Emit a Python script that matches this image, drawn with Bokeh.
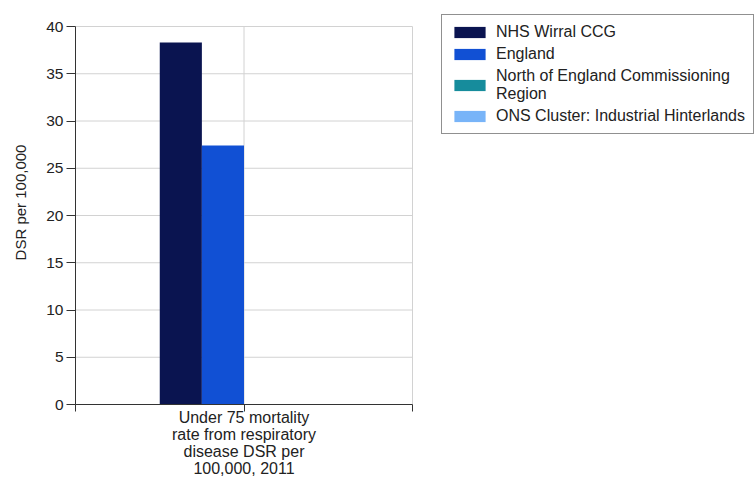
from bokeh.plotting import figure
from bokeh.models import Range1d, FixedTicker, Legend, LegendItem
from bokeh.embed import file_html
from bokeh.resources import INLINE

# ---- data ----
categories = ["Under 75 mortality\nrate from respiratory\ndisease DSR per\n100,000, 2011"]
series_names = [
    "NHS Wirral CCG",
    "England",
    "North of England Commissioning\nRegion",
    "ONS Cluster: Industrial Hinterlands",
]
nhs_wirral = [38.3]
england = [27.4]
north_region = [0.0]
ons_cluster = [0.0]
series_values = [nhs_wirral, england, north_region, ons_cluster]
series_colors = ["#0a1450", "#1150d4", "#168c9c", "#78b4f8"]
y_ticks = [0, 5, 10, 15, 20, 25, 30, 35, 40]
Y_MAX = 40

FONT = "Liberation Sans"

# layout (pixels): plot area 75..412 wide, 26..404 high; frame extended to the
# right/top edge so the legend (drawn inside the frame) is not clipped.
W, H = 754, 479
LEFT, BOTTOM = 75, 75
PLOT_RIGHT, PLOT_TOP = 412, 26
n_cat = len(categories)
x_max = 2 * n_cat
frame_w = W - LEFT
frame_h = H - BOTTOM
x_end = x_max * frame_w / (PLOT_RIGHT - LEFT)
y_end = Y_MAX * frame_h / (frame_h - PLOT_TOP)

p = figure(
    width=W, height=H,
    x_range=Range1d(0, x_end),
    y_range=Range1d(0, y_end),
    output_backend="svg", toolbar_location=None,
    min_border_left=LEFT, min_border_right=0, min_border_top=0, min_border_bottom=BOTTOM,
)
p.outline_line_color = None
p.background_fill_color = "white"
p.border_fill_color = "white"
p.xgrid.visible = False
p.ygrid.visible = False

xt = sorted(set([0] + [2 * i + 1 for i in range(n_cat)] + [2 * i + 2 for i in range(n_cat)]))
grid_color = "#d2d2d2"
# grid lines limited to the plot area
hy = [t for t in y_ticks if t > 0]
p.segment(x0=[0] * len(hy), x1=[x_max] * len(hy), y0=hy, y1=hy, line_color=grid_color, line_width=1)
vx = [t for t in xt if t > 0]
p.segment(x0=vx, x1=vx, y0=[0] * len(vx), y1=[Y_MAX] * len(vx), line_color=grid_color, line_width=1)

n = len(series_names)
bar_w = 0.25
renderers = []
for j, (name, vals, col) in enumerate(zip(series_names, series_values, series_colors)):
    xs = [2 * i + 1 + (j - (n - 1) / 2) * bar_w for i in range(n_cat)]
    r = p.vbar(x=xs, top=vals, bottom=0, width=bar_w, fill_color=col, line_color=None)
    renderers.append(r)

# axes
p.yaxis.bounds = (0, Y_MAX)
p.yaxis.ticker = FixedTicker(ticks=y_ticks)
p.yaxis.axis_label = "DSR per 100,000"
p.yaxis.axis_label_text_font = FONT
p.yaxis.axis_label_text_font_size = "15px"
p.yaxis.axis_label_text_font_style = "normal"
p.yaxis.axis_label_text_color = "#222222"
p.yaxis.axis_label_standoff = 14
p.yaxis.major_label_text_font = FONT
p.yaxis.major_label_text_font_size = "15.5px"
p.yaxis.major_label_text_color = "#222222"
p.yaxis.major_label_standoff = 3
p.yaxis.major_tick_out = 9
p.yaxis.major_tick_in = 0
p.yaxis.minor_tick_out = 0
p.yaxis.minor_tick_in = 0
p.yaxis.axis_line_color = "#333333"
p.yaxis.major_tick_line_color = "#333333"

p.xaxis.bounds = (0, x_max)
p.xaxis.ticker = FixedTicker(ticks=xt)
overrides = {0: ""}
for i, c in enumerate(categories):
    overrides[2 * i + 1] = c
    overrides[2 * i + 2] = ""
p.xaxis.major_label_overrides = overrides
p.xaxis.major_label_text_font = FONT
p.xaxis.major_label_text_font_size = "16px"
p.xaxis.major_label_text_color = "#222222"
p.xaxis.major_label_text_line_height = 1.0
p.xaxis.major_label_standoff = -3
p.xaxis.major_tick_out = 7
p.xaxis.major_tick_in = 0
p.xaxis.minor_tick_out = 0
p.xaxis.minor_tick_in = 0
p.xaxis.axis_line_color = "#333333"
p.xaxis.major_tick_line_color = "#333333"

legend = Legend(
    items=[LegendItem(label=nm, renderers=[r]) for nm, r in zip(series_names, renderers)],
    location=(441 - LEFT, frame_h - 134),
    margin=0,
    padding=8,
    spacing=4,
    glyph_width=39,
    glyph_height=14,
    label_standoff=7,
    label_height=15,
    label_text_font=FONT,
    label_text_font_size="16px",
    label_text_color="#222222",
    label_text_line_height=1.05,
    border_line_color="#222222",
    border_line_width=1,
    background_fill_alpha=1.0,
)
p.add_layout(legend, "center")

open("out.html", "w").write(file_html(p, INLINE))
